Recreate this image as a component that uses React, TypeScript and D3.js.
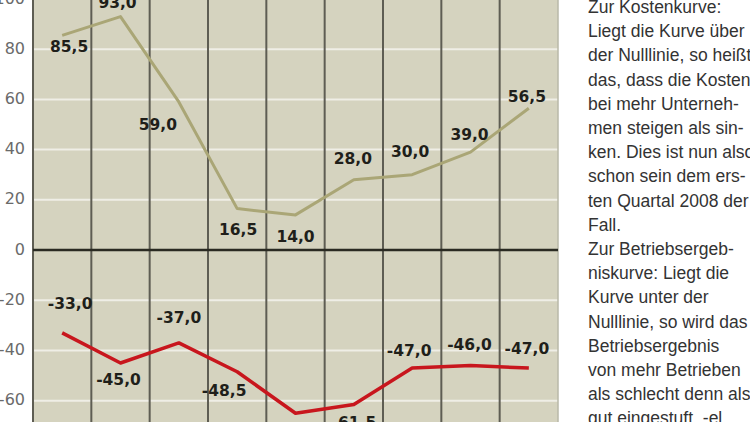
import { useEffect, useRef } from 'react'
import * as d3 from 'd3'

// quarters (axis labels are cut off in the picture, so not drawn)
const quarters = ['q1', 'q2', 'q3', 'q4', 'q5', 'q6', 'q7', 'q8', 'q9']
const kosten = [85.5, 93.0, 59.0, 16.5, 14.0, 28.0, 30.0, 39.0, 56.5]
const betrieb = [-33.0, -45.0, -37.0, -48.5, -65.0, -61.5, -47.0, -46.0, -47.0]
const yTicks = [100, 80, 60, 40, 20, 0, -20, -40, -60]

const noteLines = [
  'Zur Kostenkurve:',
  'Liegt die Kurve über',
  'der Nulllinie, so heißt',
  'das, dass die Kosten',
  'bei mehr Unterneh-',
  'men steigen als sin-',
  'ken. Dies ist nun also',
  'schon sein dem ers-',
  'ten Quartal 2008 der',
  'Fall.',
  'Zur Betriebsergeb-',
  'niskurve: Liegt die',
  'Kurve unter der',
  'Nulllinie, so wird das',
  'Betriebsergebnis',
  'von mehr Betrieben',
  'als schlecht denn als',
  'gut eingestuft. -el',
]

// label nudges (dx, dy) relative to each point
const kostenLabelPos = [[7, 12], [-3, -13], [-21, 24], [1, 22], [0, 23], [-1, -20], [-2, -22], [-1, -17], [-2, -11]]
const betriebLabelPos = [[8, -28], [-2, 17], [0, -24], [-13, 20], [0, 34], [0, 19], [-3, -17], [-1, -20], [-2, -19]]

const width = 750
const height = 422

const fmt = (v: number) => v.toFixed(1).replace('.', ',')

export default function App() {
  const svgRef = useRef<SVGSVGElement>(null)

  useEffect(() => {
    document.body.style.margin = '0'
    if (!svgRef.current) return

    const svg = d3.select(svgRef.current)
    svg.selectAll('*').remove()

    const plotLeft = 33
    const plotRight = 558

    const x = d3
      .scaleBand<string>()
      .domain(quarters)
      .range([plotLeft, plotRight])
      .paddingInner(0)
    const y = d3.scaleLinear().domain([-68.5, 99.6]).range([height, 0])
    const cx = (i: number) => (x(quarters[i]) || 0) + x.bandwidth() / 2

    // plot background
    svg
      .append('rect')
      .attr('x', plotLeft)
      .attr('y', 0)
      .attr('width', plotRight - plotLeft)
      .attr('height', height)
      .attr('fill', '#d5d3bf')

    // white horizontal grid
    svg
      .append('g')
      .selectAll('line')
      .data(yTicks.filter((t) => t !== 0))
      .enter()
      .append('line')
      .attr('x1', plotLeft)
      .attr('x2', plotRight)
      .attr('y1', (d) => y(d))
      .attr('y2', (d) => y(d))
      .attr('stroke', '#efeee6')
      .attr('stroke-width', 2)

    // vertical column lines
    svg
      .append('g')
      .selectAll('line')
      .data(quarters)
      .enter()
      .append('line')
      .attr('x1', (d) => x(d) || 0)
      .attr('x2', (d) => x(d) || 0)
      .attr('y1', 0)
      .attr('y2', height)
      .attr('stroke', '#5e5d53')
      .attr('stroke-width', 2)

    // right border of the plot
    svg
      .append('line')
      .attr('x1', plotRight)
      .attr('x2', plotRight)
      .attr('y1', 0)
      .attr('y2', height)
      .attr('stroke', '#b9b8a8')
      .attr('stroke-width', 1.5)

    // zero line
    svg
      .append('line')
      .attr('x1', plotLeft)
      .attr('x2', plotRight)
      .attr('y1', y(0))
      .attr('y2', y(0))
      .attr('stroke', '#2a2a22')
      .attr('stroke-width', 2.5)

    // y axis labels
    svg
      .append('g')
      .selectAll('text')
      .data(yTicks)
      .enter()
      .append('text')
      .attr('x', 25)
      .attr('y', (d) => y(d))
      .attr('text-anchor', 'end')
      .attr('dominant-baseline', 'middle')
      .attr('fill', '#6a6a6a')
      .attr('font-family', 'DejaVu Sans, sans-serif')
      .attr('font-size', '16px')
      .text((d) => String(d))

    const line = d3
      .line<number>()
      .x((_, i) => cx(i))
      .y((d) => y(d))

    svg
      .append('path')
      .datum(kosten)
      .attr('d', line)
      .attr('fill', 'none')
      .attr('stroke', '#aaa676')
      .attr('stroke-width', 3)
      .attr('stroke-linejoin', 'round')

    svg
      .append('path')
      .datum(betrieb)
      .attr('d', line)
      .attr('fill', 'none')
      .attr('stroke', '#c8161d')
      .attr('stroke-width', 3.5)
      .attr('stroke-linejoin', 'round')

    const addLabels = (values: number[], pos: number[][]) => {
      svg
        .append('g')
        .selectAll('text')
        .data(values)
        .enter()
        .append('text')
        .attr('x', (_, i) => cx(i) + pos[i][0])
        .attr('y', (d, i) => y(d) + pos[i][1])
        .attr('text-anchor', 'middle')
        .attr('dominant-baseline', 'middle')
        .attr('fill', '#1f1f1a')
        .attr('font-family', 'DejaVu Sans, sans-serif')
        .attr('font-weight', 'bold')
        .attr('font-size', '15.5px')
        .text((d) => fmt(d))
    }
    addLabels(kosten, kostenLabelPos)
    addLabels(betrieb, betriebLabelPos)

    // explanatory text on the right
    svg
      .append('g')
      .selectAll('text')
      .data(noteLines)
      .enter()
      .append('text')
      .attr('x', 588)
      .attr('y', (_, i) => 13 + i * 24.2)
      .attr('fill', '#333')
      .attr('font-family', 'Liberation Sans, Arial, sans-serif')
      .attr('font-size', '17.5px')
      .text((d) => d)
  }, [])

  return <svg ref={svgRef} width={width} height={height} style={{ display: 'block', background: '#fff' }} />
}
